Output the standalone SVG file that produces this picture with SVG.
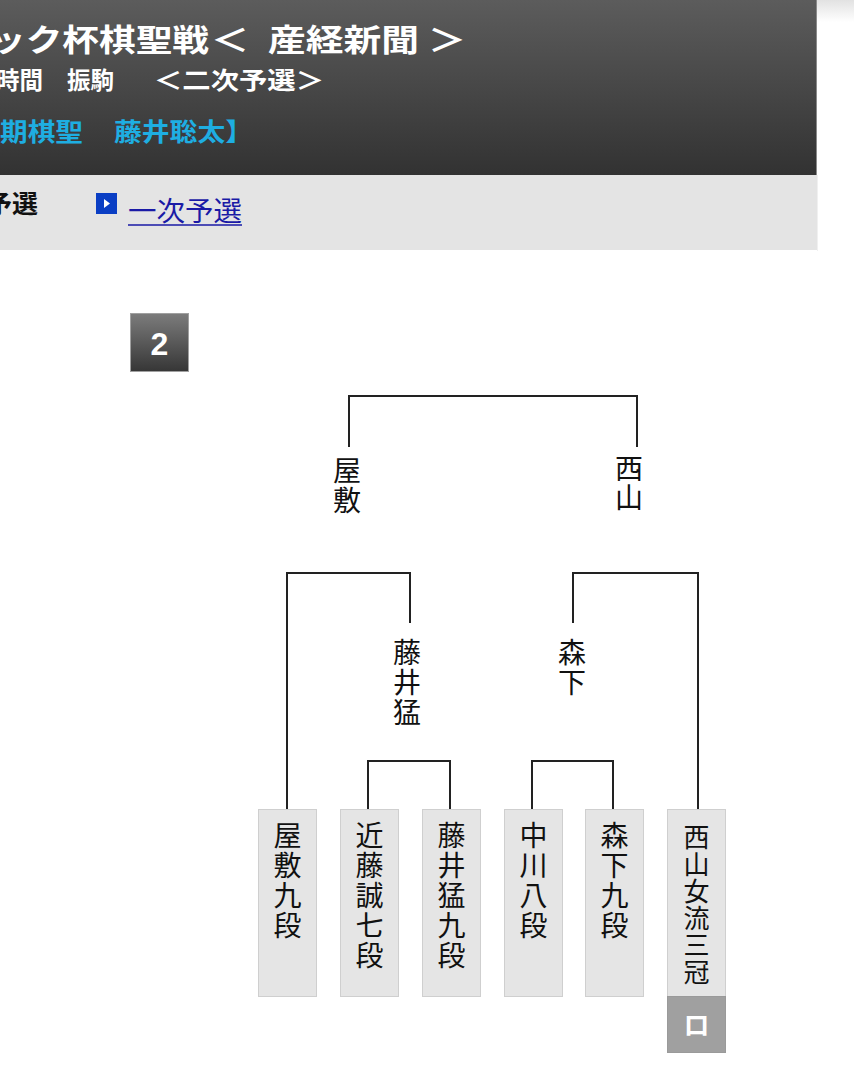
<svg xmlns="http://www.w3.org/2000/svg" width="854" height="1076" viewBox="0 0 854 1076">
<defs>
<linearGradient id="hdr" x1="0" y1="0" x2="0" y2="1">
<stop offset="0" stop-color="#5c5c5c"/>
<stop offset="1" stop-color="#323232"/>
</linearGradient>
<linearGradient id="rtop" x1="0" y1="0" x2="0" y2="1">
<stop offset="0" stop-color="#e2e2e2"/>
<stop offset="1" stop-color="#ffffff"/>
</linearGradient>
<linearGradient id="badge" x1="0" y1="0" x2="0" y2="1">
<stop offset="0" stop-color="#7c7c7c"/>
<stop offset="1" stop-color="#363636"/>
</linearGradient>
<style>
.jp{font-family:"Noto Sans CJK JP","Noto Sans CJK SC",sans-serif}
.hw{fill:#ffffff;font-weight:bold}
.cy{fill:#1eaee2;font-weight:bold}
.box{fill:#e5e5e5;stroke:#cfcfcf;stroke-width:1}
.nm{font-size:28px;fill:#111111;text-anchor:middle}
.ln{fill:none;stroke:#222222;stroke-width:2}
</style>
</defs>
<rect x="0" y="0" width="854" height="1076" fill="#ffffff"/>
<g id="header">
<rect x="817" y="0" width="37" height="22" fill="url(#rtop)"/>
<rect x="0" y="0" width="817" height="175" fill="url(#hdr)"/>
<line x1="816.5" y1="0" x2="816.5" y2="175" stroke="#8a8a8a" stroke-width="1"/>
<rect x="0" y="175" width="817" height="75" fill="#e4e4e4"/>
<line x1="817.5" y1="175" x2="817.5" y2="251" stroke="#f0f0f0" stroke-width="1"/>
<g class="jp hw" font-size="31">
<text x="-11" y="51" textLength="220" lengthAdjust="spacingAndGlyphs">ック杯棋聖戦</text>
<text x="211" y="51" textLength="38" lengthAdjust="spacingAndGlyphs">＜</text>
<text x="268" y="51" textLength="151" lengthAdjust="spacingAndGlyphs">産経新聞</text>
<text x="428" y="51" textLength="38" lengthAdjust="spacingAndGlyphs">＞</text>
</g>
<g class="jp hw" font-size="24">
<text x="-4" y="89" textLength="47" lengthAdjust="spacingAndGlyphs">時間</text>
<text x="67" y="89" textLength="47" lengthAdjust="spacingAndGlyphs">振駒</text>
<text x="154" y="89" textLength="170" lengthAdjust="spacingAndGlyphs">＜二次予選＞</text>
</g>
<g class="jp cy" font-size="25">
<text x="0" y="141" textLength="83" lengthAdjust="spacingAndGlyphs">期棋聖</text>
<text x="114" y="141" textLength="139" lengthAdjust="spacingAndGlyphs">藤井聡太】</text>
</g>
<text class="jp" x="-14" y="213" font-size="25" font-weight="bold" fill="#111111" textLength="52" lengthAdjust="spacingAndGlyphs">予選</text>
<rect x="96" y="193" width="21" height="21" fill="#0a3ec4"/>
<polygon points="104,199 104,208 110,203.5" fill="#ffffff"/>
<text class="jp" x="128" y="221" font-size="27" fill="#1a1aa6" textLength="114" lengthAdjust="spacingAndGlyphs">一次予選</text>
<line x1="128" y1="225" x2="242" y2="225" stroke="#1a1aa6" stroke-width="1.5"/>
</g>
<g id="badge2">
<rect x="130.5" y="313.5" width="58" height="58" fill="url(#badge)" stroke="#a0a0a0" stroke-width="1"/>
<text x="159.5" y="355" font-family="Liberation Sans, Arial, sans-serif" font-size="32" font-weight="bold" fill="#ffffff" text-anchor="middle">2</text>
</g>
<g id="connectors">
<path class="ln" d="M349 447 V396 H637 V447"/>
<path class="ln" d="M287 809 V573 H410 V623"/>
<path class="ln" d="M573 623 V573 H698 V809"/>
<path class="ln" d="M368 809 V761 H450 V809"/>
<path class="ln" d="M532 809 V761 H613 V809"/>
</g>
<g id="label-yashiki" class="jp nm">
<text x="347" y="481"><tspan x="347">屋</tspan><tspan x="347" dy="30">敷</tspan></text>
</g>
<g id="label-nishiyama" class="jp nm">
<text x="629" y="479"><tspan x="629">西</tspan><tspan x="629" dy="29">山</tspan></text>
</g>
<g id="label-fujii" class="jp nm">
<text x="407" y="663"><tspan x="407">藤</tspan><tspan x="407" dy="30">井</tspan><tspan x="407" dy="30">猛</tspan></text>
</g>
<g id="label-morishita" class="jp nm">
<text x="572" y="663"><tspan x="572">森</tspan><tspan x="572" dy="30">下</tspan></text>
</g>
<g id="p1">
<rect class="box" x="258.5" y="809.5" width="58" height="187"/>
<text class="jp nm" x="287.5" y="846"><tspan x="287.5">屋</tspan><tspan x="287.5" dy="30">敷</tspan><tspan x="287.5" dy="30">九</tspan><tspan x="287.5" dy="30">段</tspan></text>
</g>
<g id="p2">
<rect class="box" x="340.5" y="809.5" width="58" height="187"/>
<text class="jp nm" x="369.5" y="846"><tspan x="369.5">近</tspan><tspan x="369.5" dy="30">藤</tspan><tspan x="369.5" dy="30">誠</tspan><tspan x="369.5" dy="30">七</tspan><tspan x="369.5" dy="30">段</tspan></text>
</g>
<g id="p3">
<rect class="box" x="422.5" y="809.5" width="58" height="187"/>
<text class="jp nm" x="451.5" y="846"><tspan x="451.5">藤</tspan><tspan x="451.5" dy="30">井</tspan><tspan x="451.5" dy="30">猛</tspan><tspan x="451.5" dy="30">九</tspan><tspan x="451.5" dy="30">段</tspan></text>
</g>
<g id="p4">
<rect class="box" x="504.5" y="809.5" width="58" height="187"/>
<text class="jp nm" x="533.5" y="846"><tspan x="533.5">中</tspan><tspan x="533.5" dy="30">川</tspan><tspan x="533.5" dy="30">八</tspan><tspan x="533.5" dy="30">段</tspan></text>
</g>
<g id="p5">
<rect class="box" x="585.5" y="809.5" width="58" height="187"/>
<text class="jp nm" x="614.5" y="846"><tspan x="614.5">森</tspan><tspan x="614.5" dy="30">下</tspan><tspan x="614.5" dy="30">九</tspan><tspan x="614.5" dy="30">段</tspan></text>
</g>
<g id="p6">
<rect class="box" x="667.5" y="809.5" width="58" height="187"/>
<text class="jp nm" x="696.5" y="847" font-size="26" style="font-size:26px"><tspan x="696.5">西</tspan><tspan x="696.5" dy="27">山</tspan><tspan x="696.5" dy="27">女</tspan><tspan x="696.5" dy="27">流</tspan><tspan x="696.5" dy="27">三</tspan><tspan x="696.5" dy="27">冠</tspan></text>
<rect x="667.5" y="996.5" width="58" height="56" fill="#a0a0a0" stroke="#9a9a9a" stroke-width="1"/>
<text class="jp" x="696.5" y="1035" font-size="26" font-weight="bold" fill="#ffffff" text-anchor="middle">ロ</text>
</g>
</svg>
